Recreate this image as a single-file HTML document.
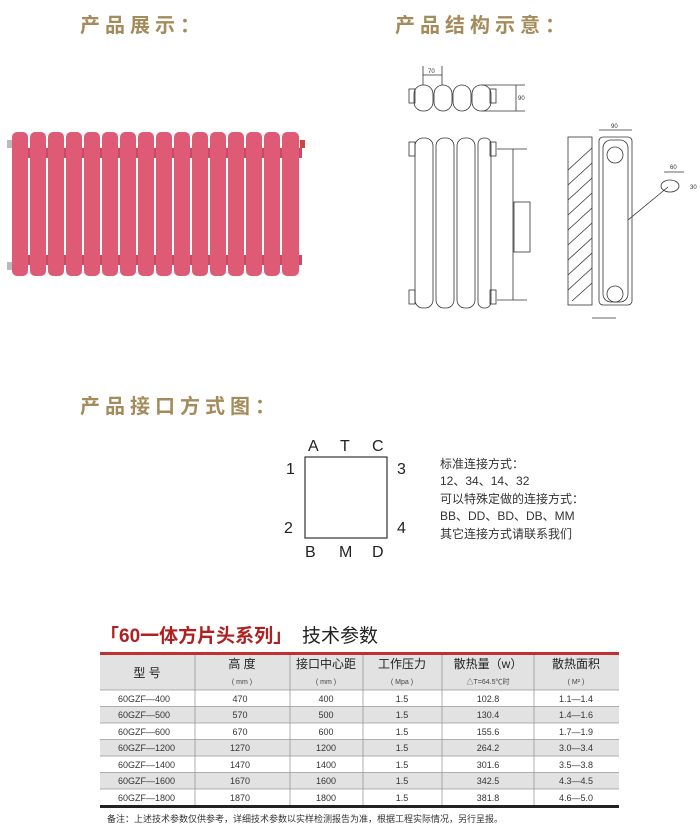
<!DOCTYPE html>
<html><head><meta charset="utf-8"><style>
body{margin:0;background:#fff;width:700px;height:835px;overflow:hidden;font-family:"Liberation Sans","Noto Sans CJK SC",sans-serif}
svg{position:absolute;left:0;top:0}
</style></head><body>
<svg width="700" height="835" viewBox="0 0 700 835" font-family="Liberation Sans, Noto Sans CJK SC, sans-serif">
<g fill="#a48b5b" font-weight="bold" font-size="20" letter-spacing="5">
<text x="80" y="32">产品展示：</text>
<text x="395" y="32">产品结构示意：</text>
<text x="80" y="413">产品接口方式图：</text>
</g>
<!-- radiator photo -->
<g>
<rect x="7" y="140" width="6" height="8" fill="#bbb"/>
<rect x="7" y="262" width="6" height="8" fill="#bbb"/>
<rect x="300" y="140" width="5" height="8" fill="#c44"/>
<rect x="12" y="148" width="290" height="10" fill="#c84a63"/>
<rect x="12" y="255" width="290" height="10" fill="#c84a63"/>
<g fill="#df5b75">
<rect x="12" y="132" width="16" height="144" rx="5"/><rect x="30" y="132" width="16" height="144" rx="5"/><rect x="48" y="132" width="16" height="144" rx="5"/><rect x="66" y="132" width="16" height="144" rx="5"/><rect x="84" y="132" width="16" height="144" rx="5"/><rect x="102" y="132" width="16" height="144" rx="5"/><rect x="120" y="132" width="16" height="144" rx="5"/><rect x="138" y="132" width="16" height="144" rx="5"/><rect x="156" y="132" width="16" height="144" rx="5"/><rect x="174" y="132" width="16" height="144" rx="5"/><rect x="192" y="132" width="16" height="144" rx="5"/><rect x="210" y="132" width="16" height="144" rx="5"/><rect x="228" y="132" width="16" height="144" rx="5"/><rect x="246" y="132" width="16" height="144" rx="5"/><rect x="264" y="132" width="16" height="144" rx="5"/><rect x="282" y="132" width="17" height="144" rx="5"/>
</g></g>
<!-- structure drawing -->
<g fill="none" stroke="#333" stroke-width="0.8">
<rect x="409" y="89" width="6" height="14"/><rect x="490" y="89" width="6" height="14"/>
<rect x="414" y="85" width="19" height="26" rx="9"/><rect x="434" y="85" width="18" height="26" rx="9"/><rect x="453" y="85" width="18" height="26" rx="9"/><rect x="472" y="85" width="19" height="26" rx="9"/>
<line x1="423" y1="66" x2="423" y2="85"/><line x1="442" y1="66" x2="442" y2="85"/><line x1="423" y1="75" x2="442" y2="75"/>
<line x1="482" y1="85" x2="525" y2="85"/><line x1="482" y1="111" x2="525" y2="111"/><line x1="516" y1="85" x2="516" y2="111"/>
<rect x="409" y="142" width="6" height="14"/><rect x="490" y="142" width="6" height="14"/>
<rect x="409" y="290" width="6" height="14"/><rect x="490" y="290" width="6" height="14"/>
<rect x="415" y="138" width="18" height="170" rx="8"/><rect x="436" y="138" width="18" height="170" rx="8"/><rect x="457" y="138" width="18" height="170" rx="8"/><rect x="478" y="138" width="13" height="170" rx="6"/>
<line x1="497" y1="149" x2="527" y2="149"/><line x1="497" y1="300" x2="527" y2="300"/><line x1="513" y1="149" x2="513" y2="300"/>
<rect x="514" y="202" width="16" height="50" fill="#fff"/>
<rect x="568" y="137" width="24" height="168"/>
<path d="M568 170 L592 148 M568 185 L592 163 M568 200 L592 178 M568 215 L592 193 M568 230 L592 208 M568 245 L592 223 M568 260 L592 238 M568 275 L592 253 M568 290 L592 268 M572 301 L592 283"/>
<rect x="599" y="137" width="33" height="168" rx="4"/>
<rect x="603" y="140" width="25" height="162" rx="8"/>
<circle cx="615" cy="155" r="8"/><circle cx="615" cy="294" r="8"/>
<line x1="599" y1="130" x2="632" y2="130"/>
<line x1="628" y1="220" x2="668" y2="187"/>
<ellipse cx="670" cy="186" rx="9" ry="6"/>
<line x1="664" y1="172" x2="684" y2="172"/>
<line x1="592" y1="318" x2="616" y2="318"/>
</g>
<g font-size="6" fill="#333"><text x="428" y="73">70</text><text x="518" y="100">90</text><text x="611" y="128">90</text><text x="670" y="169">60</text><text x="690" y="189">30</text></g>
<!-- interface diagram -->
<rect x="305" y="457" width="82" height="81" fill="none" stroke="#333" stroke-width="1.2"/>
<g font-size="16" fill="#222">
<text x="308" y="451">A</text><text x="340" y="451">T</text><text x="372" y="451">C</text>
<text x="286" y="474">1</text><text x="397" y="474">3</text>
<text x="284" y="533">2</text><text x="397" y="533">4</text>
<text x="305" y="557">B</text><text x="339" y="557">M</text><text x="372" y="557">D</text>
</g>
<g font-size="12" fill="#333">
<text x="440" y="468">标准连接方式：</text>
<text x="440" y="485">12、34、14、32</text>
<text x="440" y="503">可以特殊定做的连接方式：</text>
<text x="440" y="520">BB、DD、BD、DB、MM</text>
<text x="440" y="538">其它连接方式请联系我们</text>
</g>
<!-- table -->
<text x="100" y="642" font-size="19" font-weight="bold" fill="#b02020">「60一体方片头系列」</text>
<text x="302" y="642" font-size="19" fill="#222">技术参数</text>
<rect x="100" y="655" width="519" height="35" fill="#e2e2e2"/>
<rect x="100" y="652" width="519" height="3" fill="#c03030"/>
<rect x="100" y="706.5" width="519" height="16.5" fill="#e2e2e2"/>
<rect x="100" y="739.5" width="519" height="16.5" fill="#e2e2e2"/>
<rect x="100" y="772.5" width="519" height="16.5" fill="#e2e2e2"/>
<g stroke="#999" stroke-width="0.8">
<line x1="100" y1="690" x2="619" y2="690"/><line x1="100" y1="706.5" x2="619" y2="706.5"/><line x1="100" y1="723" x2="619" y2="723"/><line x1="100" y1="739.5" x2="619" y2="739.5"/><line x1="100" y1="756" x2="619" y2="756"/><line x1="100" y1="772.5" x2="619" y2="772.5"/><line x1="100" y1="789" x2="619" y2="789"/>
<line x1="195" y1="655" x2="195" y2="805"/><line x1="290" y1="655" x2="290" y2="805"/><line x1="363" y1="655" x2="363" y2="805"/><line x1="442" y1="655" x2="442" y2="805"/><line x1="534" y1="655" x2="534" y2="805"/>
</g>
<rect x="100" y="805" width="519" height="3" fill="#222"/>
<g font-size="12" fill="#222" text-anchor="middle">
<text x="147" y="677">型 号</text><text x="242" y="668">高 度</text><text x="326" y="668">接口中心距</text><text x="402" y="668">工作压力</text><text x="488" y="668">散热量（w）</text><text x="576" y="668">散热面积</text>
</g>
<g font-size="7" fill="#444" text-anchor="middle">
<text x="242" y="684">( mm )</text><text x="326" y="684">( mm )</text><text x="402" y="684">( Mpa )</text><text x="488" y="684">△T=64.5℃时</text><text x="576" y="684">( M² )</text>
</g>
<g font-size="9" fill="#333">
<g><text x="118" y="702">60GZF—400</text><text x="118" y="718">60GZF—500</text><text x="118" y="735">60GZF—600</text><text x="118" y="751">60GZF—1200</text><text x="118" y="768">60GZF—1400</text><text x="118" y="784">60GZF—1600</text><text x="118" y="801">60GZF—1800</text></g>
<g text-anchor="middle">
<text x="240" y="702">470</text><text x="240" y="718">570</text><text x="240" y="735">670</text><text x="240" y="751">1270</text><text x="240" y="768">1470</text><text x="240" y="784">1670</text><text x="240" y="801">1870</text>
<text x="326" y="702">400</text><text x="326" y="718">500</text><text x="326" y="735">600</text><text x="326" y="751">1200</text><text x="326" y="768">1400</text><text x="326" y="784">1600</text><text x="326" y="801">1800</text>
<text x="402" y="702">1.5</text><text x="402" y="718">1.5</text><text x="402" y="735">1.5</text><text x="402" y="751">1.5</text><text x="402" y="768">1.5</text><text x="402" y="784">1.5</text><text x="402" y="801">1.5</text>
<text x="488" y="702">102.8</text><text x="488" y="718">130.4</text><text x="488" y="735">155.6</text><text x="488" y="751">264.2</text><text x="488" y="768">301.6</text><text x="488" y="784">342.5</text><text x="488" y="801">381.8</text>
<text x="576" y="702">1.1—1.4</text><text x="576" y="718">1.4—1.6</text><text x="576" y="735">1.7—1.9</text><text x="576" y="751">3.0—3.4</text><text x="576" y="768">3.5—3.8</text><text x="576" y="784">4.3—4.5</text><text x="576" y="801">4.6—5.0</text>
</g></g>
<text x="107" y="822" font-size="9" fill="#333">备注：上述技术参数仅供参考，详细技术参数以实样检测报告为准，根据工程实际情况，另行呈报。</text>
</svg>
</body></html>
